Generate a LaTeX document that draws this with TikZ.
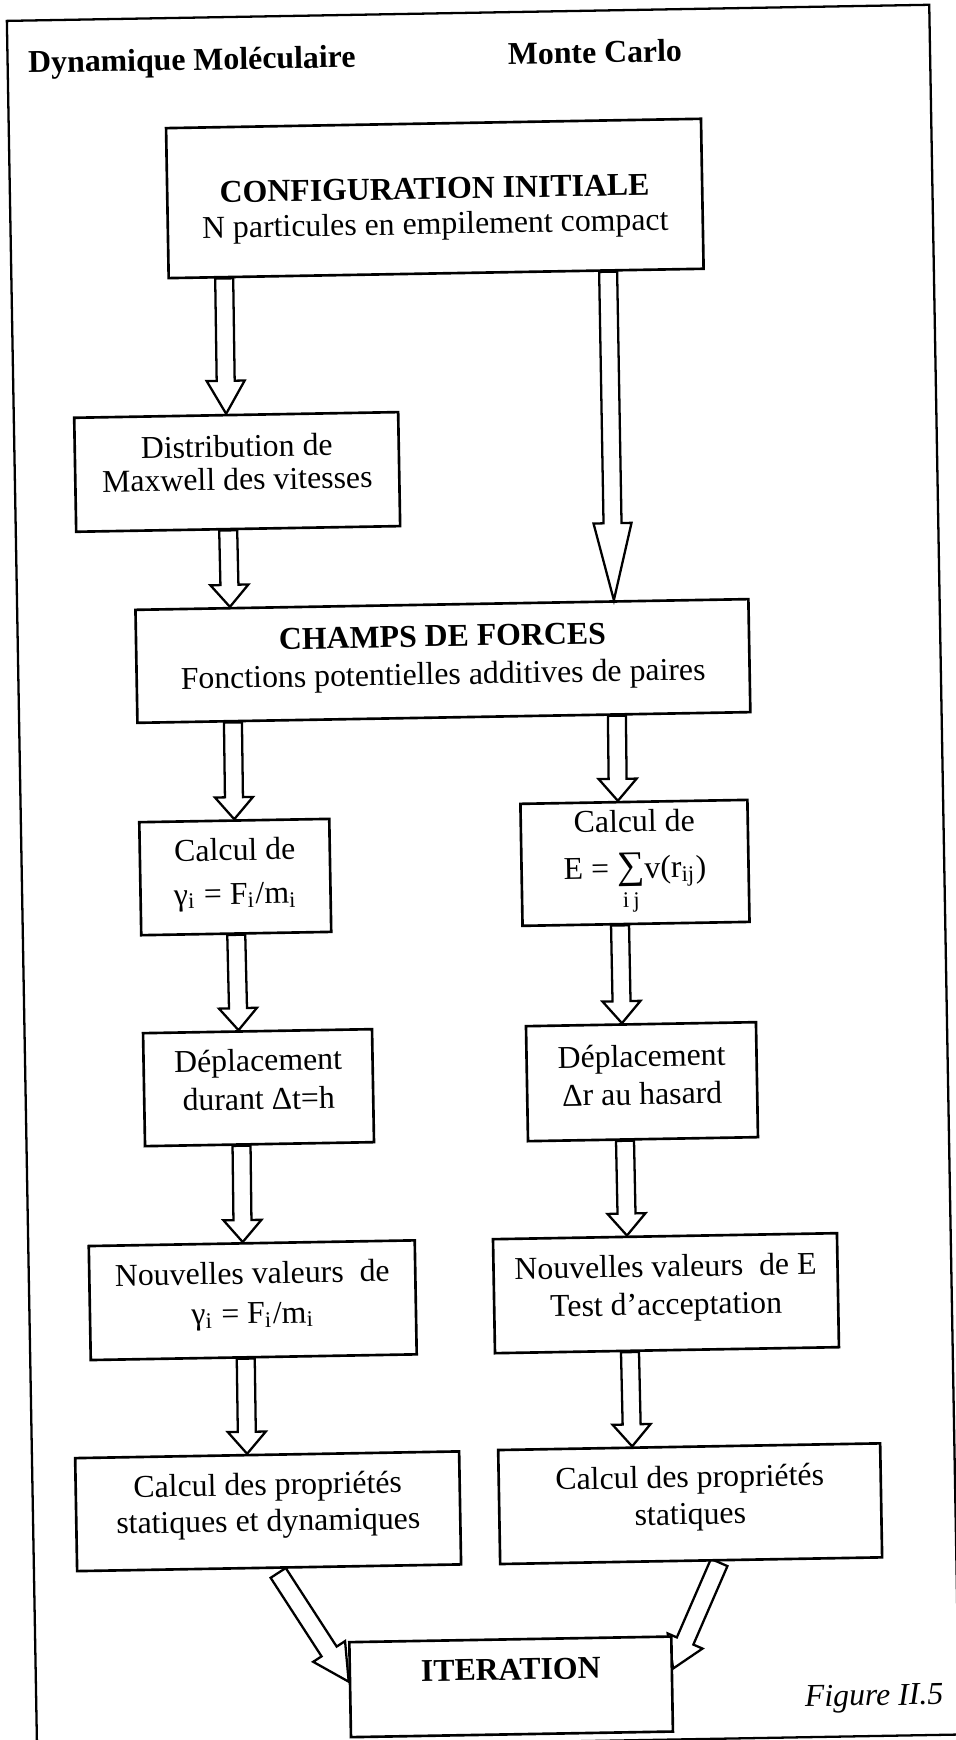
\documentclass[tikz,border=0pt]{standalone}
\usepackage{fontspec}
\setmainfont{Liberation Serif}
\usepackage{tikz}
\usetikzlibrary{calc}

\pgfdeclarelayer{background}
\pgfsetlayers{background,main}

\newcommand{\shaftw}{0.09cm}
\newcommand{\headw}{0.19cm}
% invisible depth on the last line of a box
\newcommand{\bas}[1]{\rule[-#1]{0pt}{#1}}
% hollow block arrow: [head length]{start}{tip}
\newcommand{\fatarrow}[3][0.22cm]{%
	\coordinate (fa-s) at (#2);
	\coordinate (fa-t) at (#3);
	\coordinate (fa-h) at ($(fa-t)!#1!(fa-s)$);
	\draw[fleche] ($(fa-s)!\shaftw!90:(fa-t)$) -- ($(fa-h)!\shaftw!90:(fa-t)$)
	-- ($(fa-h)!\headw!90:(fa-t)$) -- (fa-t) -- ($(fa-h)!\headw!-90:(fa-t)$)
	-- ($(fa-h)!\shaftw!-90:(fa-t)$) -- ($(fa-s)!\shaftw!-90:(fa-t)$) -- cycle;
}

\begin{document}
\begin{tikzpicture}[
	bloc/.style={draw=black, line width=0.75pt, fill=white, inner sep=0pt, align=center,
		font=\fontsize{9.05}{10.8}\selectfont},
	titre/.style={inner sep=0pt, font=\fontsize{9.05}{10.8}\selectfont\bfseries},
	fleche/.style={draw=black, line width=0.65pt, line join=miter},
	cadre/.style={draw=black, line width=0.65pt}
	]
	
	\useasboundingbox (0,0) rectangle (9.56,-17.40);
	
	\begin{scope}[rotate=1, transform shape]
		
		% Frame
		\draw[cadre] (0.065,-0.21) -- (9.29,-0.21) -- (9.29,-17.51) -- (0.065,-17.51) -- cycle;
		
		
		\node[bloc, minimum width=5.35cm, minimum height=1.50cm,
		font=\fontsize{9.05}{10.0}\selectfont] (config) at (4.313,-2.06)
		{\rule{0pt}{12.2pt}\textbf{CONFIGURATION INITIALE}\\N particules en empilement compact};
		
		% Titles
		
		\node[titre, anchor=base] (titre1) at ($(config) + (-2.405,1.326)$) {Dynamique Moléculaire};
		
		\node[titre, anchor=base] (titre2) at ($(config) + (1.626,1.326)$) {Monte Carlo};
		
		
		% Dynamique moleculaire
		
		\node[bloc, minimum width=3.24cm, minimum height=1.14cm,
		font=\fontsize{9.05}{9.4}\selectfont] (dist) at ($(config) + (-2.024,-2.70)$)
		{Distribution de\\Maxwell des vitesses\bas{5.4pt}};
		
		\node[bloc, minimum width=6.13cm, minimum height=1.13cm] (champs) at ($(config) + (0,-4.626)$)
		{\textbf{CHAMPS DE FORCES}\\Fonctions potentielles additives de paires\bas{3.4pt}};
		
		\node[bloc, minimum width=1.90cm, minimum height=1.13cm,
		font=\fontsize{9.05}{12.5}\selectfont] (calcg) at ($(config) + (-2.114,-6.75)$)
		{Calcul de\\γ\textsubscript{i} = F\textsubscript{i}/m\textsubscript{i}\bas{3.3pt}};
		
		\node[bloc, minimum width=2.29cm, minimum height=1.13cm,
		font=\fontsize{9.05}{11.0}\selectfont] (deplg) at ($(config) + (-1.918,-8.86)$)
		{Déplacement\\durant Δt=h\bas{4.8pt}};
		
		\node[bloc, minimum width=3.26cm, minimum height=1.14cm,
		font=\fontsize{9.05}{11.4}\selectfont] (nouvg) at ($(config) + (-2.013,-10.984)$)
		{Nouvelles valeurs\ \ de\\γ\textsubscript{i} = F\textsubscript{i}/m\textsubscript{i}\bas{4.2pt}};
		
		\node[bloc, minimum width=3.84cm, minimum height=1.13cm,
		font=\fontsize{9.05}{10.3}\selectfont] (propg) at ($(config) + (-1.896,-13.097)$)
		{Calcul des propriétés\\statiques et dynamiques\bas{5.2pt}};
		
		
		% Monte Carlo
		
		\node[bloc, minimum width=2.27cm, minimum height=1.22cm,
		font=\fontsize{9.05}{13.2}\selectfont] (calcd) at ($(config) + (1.885,-6.678)$)
		{Calcul de\\E = $\mathop{\hbox{\fontsize{11}{11}\selectfont ∑}}\limits_{\mathrm{i\,j}}$v(r\textsubscript{ij})};
		
		\node[bloc, minimum width=2.30cm, minimum height=1.15cm] (depld) at ($(config) + (1.917,-8.867)$)
		{Déplacement\\Δr au hasard\bas{4.0pt}};
		
		\node[bloc, minimum width=3.44cm, minimum height=1.14cm] (nouvd) at ($(config) + (2.12,-10.986)$)
		{Nouvelles valeurs\ \ de E\\Test d'acceptation\bas{4.8pt}};
		
		\node[bloc, minimum width=3.82cm, minimum height=1.14cm,
		font=\fontsize{9.05}{10.5}\selectfont] (propd) at ($(config) + (2.325,-13.095)$)
		{Calcul des propriétés\\statiques\bas{5.0pt}};
		
		
		% Iteration
		\node[bloc, minimum width=3.22cm, minimum height=0.95cm, text depth=9.9pt] (iter)
		at ($(config) + (0.503,-14.895)$) {\textbf{ITERATION}};
		
		\node[anchor=base east, inner sep=0pt, font=\fontsize{9.05}{10.8}\selectfont\itshape] (legende)
		at ($(config) + (4.83,-15.145)$) {Figure II.5};
		
		
		% Connections
		
		\fatarrow[0.33cm]{$(config.south) + (-2.12,0)$}{$(dist.north) + (-0.10,0)$}
		\fatarrow{$(dist.south) + (-0.10,0)$}{$(champs.north) + (-2.12,0)$}
		\fatarrow{$(champs.south) + (-2.11,0)$}{calcg.north}
		\fatarrow{calcg.south}{$(deplg.north) + (-0.19,0)$}
		\fatarrow{$(deplg.south) + (-0.18,0)$}{$(nouvg.north) + (-0.09,0)$}
		\fatarrow{$(nouvg.south) + (-0.08,0)$}{$(propg.north) + (-0.20,0)$}
		
		\fatarrow[0.77cm]{$(config.south) + (1.72,0)$}{$(champs.north) + (1.72,0)$}
		\fatarrow{$(champs.south) + (1.73,0)$}{$(calcd.north) + (-0.16,0)$}
		\fatarrow{$(calcd.south) + (-0.16,0)$}{$(depld.north) + (-0.19,0)$}
		\fatarrow{$(depld.south) + (-0.18,0)$}{$(nouvd.north) + (-0.38,0)$}
		\fatarrow{$(nouvd.south) + (-0.37,0)$}{$(propd.north) + (-0.57,0)$}
		
		\begin{pgfonlayer}{background}
			\fatarrow[0.36cm]{$(propg.south) + (0.09,-0.04)$}{$(iter.west) + (0,0.08)$}
			\fatarrow[0.30cm]{$(propd.south) + (0.28,-0.01)$}{$(iter.east) + (0,0.155)$}
		\end{pgfonlayer}
		
	\end{scope}
	
\end{tikzpicture}
\end{document}
